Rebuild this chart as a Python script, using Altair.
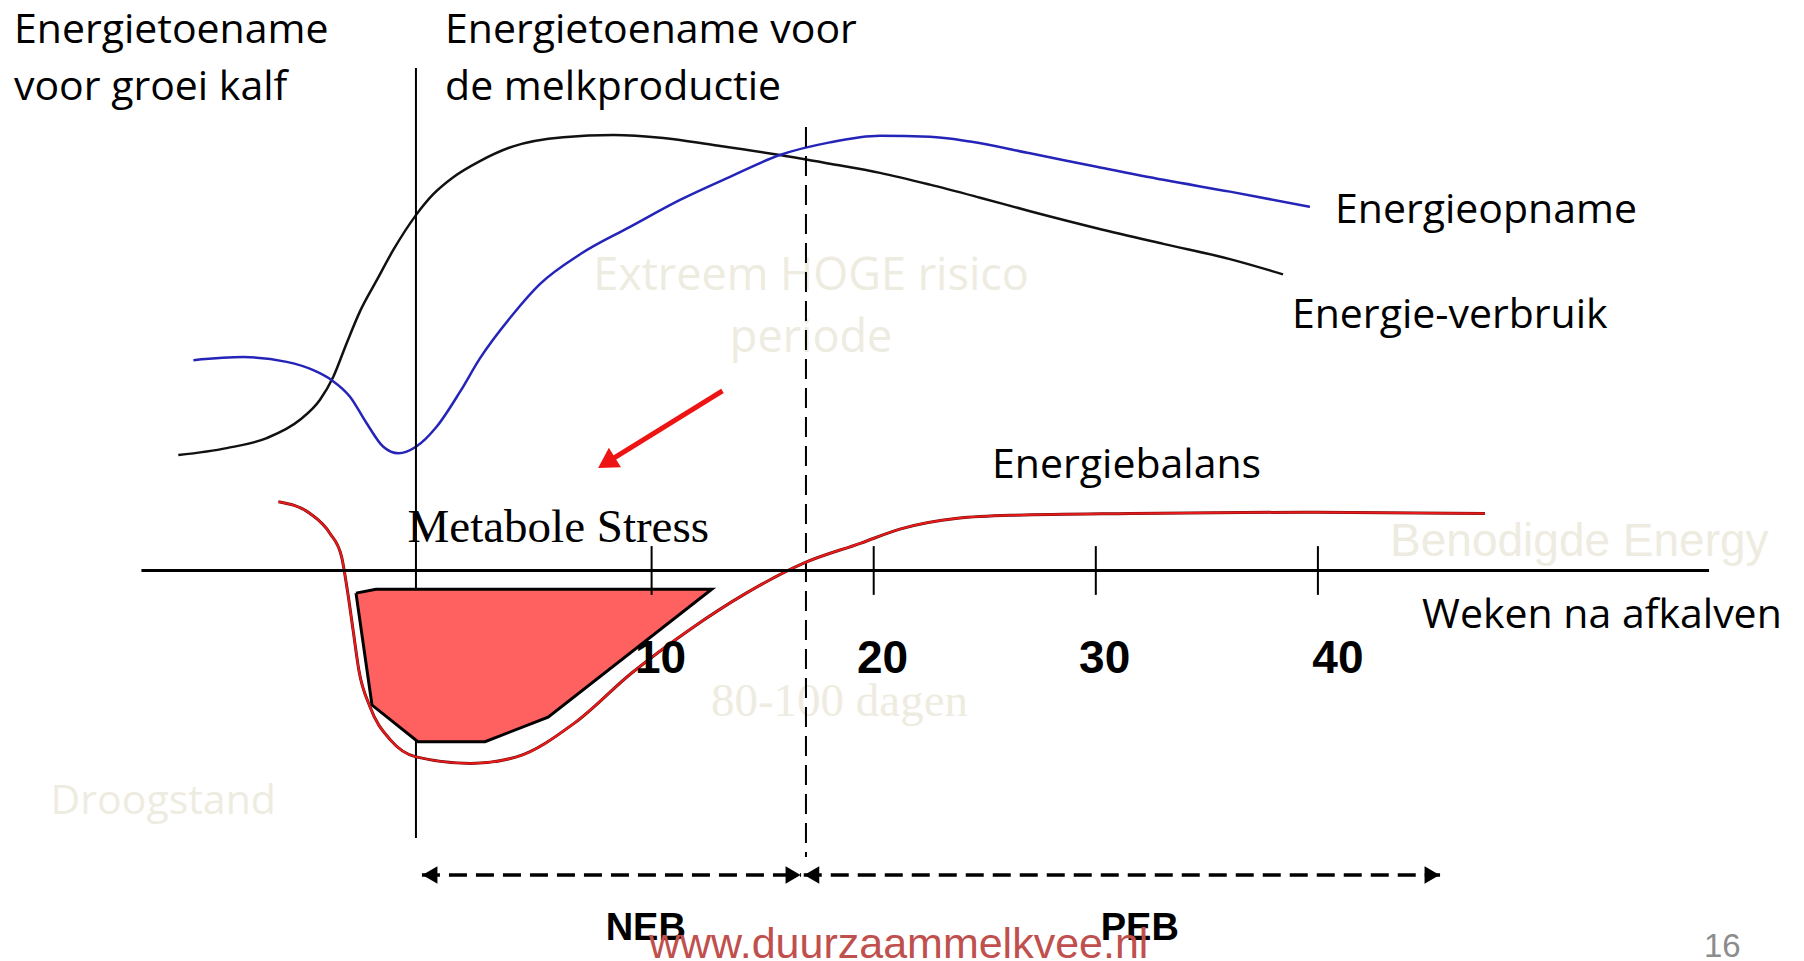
import altair as alt
import pandas as pd

# ---------------- data (x = weeks after calving, y = energy, arbitrary units) ----
verbruik_week = [-11.31, -9.13, -7.33, -5.83, -4.93, -4.33, -3.73, -3.13, -2.38, -1.63, -0.61, 0.17,
                 1.07, 2.27, 3.77, 6.02, 8.28, 10.53, 12.78, 15.78, 18.03, 20.28, 22.53, 24.79,
                 27.04, 30.04, 33.04, 36.04, 38.43]
verbruik_energie = [26.5, 28.1, 30.4, 34.6, 39.2, 44.5, 52.2, 59.5, 66.6, 73.6, 81.6, 86.4,
                    90.3, 94.0, 97.4, 99.5, 100.0, 99.3, 97.7, 95.4, 93.4, 91.3, 88.6, 85.6,
                    82.5, 78.6, 75.0, 71.5, 68.0]

opname_week = [-10.63, -8.38, -6.43, -5.23, -4.40, -3.58, -2.83, -2.08, -1.40, -0.61, 0.32, 1.37,
               2.27, 3.77, 4.98, 6.78, 9.03, 11.28, 13.53, 15.78, 18.03, 20.28, 22.53, 24.34,
               27.04, 30.04, 33.04, 36.04, 39.64]
opname_energie = [48.3, 49.0, 47.9, 46.0, 43.7, 39.9, 33.8, 28.4, 26.9, 28.4, 33.0, 41.0,
                  48.7, 58.9, 65.8, 72.6, 78.9, 85.1, 90.4, 95.4, 98.3, 99.8, 99.6, 98.5,
                  95.8, 92.7, 89.7, 87.0, 83.5]

balans_week = [-6.80, -5.38, -4.48, -3.96, -3.70, -3.44, -3.18, -2.68, -1.76, -0.61, 1.86, 3.92,
               6.51, 9.09, 11.68, 14.26, 16.85, 19.43, 21.18, 23.78, 26.36, 31.57, 39.36, 47.52]
balans_energie = [15.8, 13.1, 8.5, 3.2, -4.5, -13.7, -22.9, -31.3, -38.9, -42.8, -44.3, -42.8,
                  -35.1, -23.6, -13.7, -5.2, 1.7, 6.3, 9.5, 12.0, 12.7, 13.1, 13.4, 13.1]

stress_week = [-3.31, -2.41, 12.71, 5.34, 2.50, -0.52, -2.59, -3.31]
stress_energie = [-5.2, -4.3, -4.3, -33.7, -39.3, -39.3, -30.9, -5.2]

tick_values = [10, 20, 30, 40]
tick_labels = ["10", "20", "30", "40"]
tick_label_week = [10.4, 20.4, 30.4, 40.9]

axis_start, axis_end = -12.97, 57.61
calving_week = -0.61
peak_week = 16.95

neb_range = [-0.34, 16.73]
peb_range = [16.85, 45.5]

# ---------------- scales ----------------
xs = alt.Scale(domain=[-18.978, 61.526], nice=False, zero=False)
ys = alt.Scale(domain=[-89.67, 129.16], nice=False, zero=False)


def X(f="x"):
    return alt.X(f"{f}:Q", scale=xs, axis=None)


def Y(f="y"):
    return alt.Y(f"{f}:Q", scale=ys, axis=None)


def text_layer(rows, **style):
    df = pd.DataFrame(rows, columns=["x", "y", "t"])
    base = dict(align="left", baseline="alphabetic", font="Open Sans", fontSize=41, color="black")
    base.update(style)
    return alt.Chart(df).mark_text(**base).encode(x=X(), y=Y(), text="t:N")


# ---------------- faint background texts ----------------
faint = "#EEECE1"
faint_layers = [
    text_layer([(17.18, 64.41, "Extreem HOGE risico"), (17.18, 50.17, "periode")],
               align="center", fontSize=45, color=faint),
    text_layer([(43.25, 3.40, "Benodigde Energy")], font="Liberation Sans", fontSize=46, color=faint),
    text_layer([(12.67, -33.32, "80-100 dagen")], font="Liberation Serif", fontSize=47, color=faint),
    text_layer([(-17.06, -56.03, "Droogstand")], fontSize=41, color=faint),
]

# ---------------- curves ----------------
df_v = pd.DataFrame({"x": verbruik_week, "y": verbruik_energie})
df_o = pd.DataFrame({"x": opname_week, "y": opname_energie})
df_b = pd.DataFrame({"x": balans_week, "y": balans_energie})
df_s = pd.DataFrame({"x": stress_week, "y": stress_energie, "i": list(range(len(stress_week)))})

line_v = alt.Chart(df_v).mark_line(interpolate="monotone", color="#111111", strokeWidth=2.5).encode(x=X(), y=Y())
line_o = alt.Chart(df_o).mark_line(interpolate="monotone", color="#2424b8", strokeWidth=2.5).encode(x=X(), y=Y())
stress = alt.Chart(df_s).mark_line(fill="#ff6060", stroke="black", strokeWidth=3, strokeJoin="miter").encode(
    x=X(), y=Y(), order="i:Q")
line_b_shadow = alt.Chart(df_b).mark_line(interpolate="monotone", color="#6a0c0c", strokeWidth=3).encode(x=X(), y=Y())
line_b = alt.Chart(df_b).mark_line(interpolate="monotone", color="#e81a1a", strokeWidth=2).encode(x=X(), y=Y())

# ---------------- axis, ticks, vertical lines ----------------
axis_df = pd.DataFrame({"x": [axis_start], "x2": [axis_end], "y": [0.0]})
axis_line = alt.Chart(axis_df).mark_rule(color="black", strokeWidth=3).encode(x=X(), x2="x2:Q", y=Y())

ticks_df = pd.DataFrame({"x": tick_values, "y": [5.6] * 4, "y2": [-5.6] * 4})
ticks = alt.Chart(ticks_df).mark_rule(color="black", strokeWidth=2).encode(x=X(), y=Y(), y2="y2:Q")

tl_df = pd.DataFrame({"x": tick_label_week, "y": [-23.54] * 4, "t": tick_labels})
tick_text = alt.Chart(tl_df).mark_text(align="center", baseline="alphabetic",
                                       font="Liberation Sans Narrow, Liberation Sans", fontWeight="bold",
                                       fontSize=46, color="black").encode(x=X(), y=Y(), text="t:N")

vl_df = pd.DataFrame({"x": [calving_week], "y": [115.4], "y2": [-61.42]})
calving_line = alt.Chart(vl_df).mark_rule(color="black", strokeWidth=2).encode(x=X(), y=Y(), y2="y2:Q")
pk_df = pd.DataFrame({"x": [peak_week], "y": [101.84], "y2": [-65.79]})
peak_line = alt.Chart(pk_df).mark_rule(color="black", strokeWidth=2, strokeDash=[20, 9]).encode(
    x=X(), y=Y(), y2="y2:Q")

# ---------------- NEB / PEB arrows ----------------
arr_y = -69.92
arr_df = pd.DataFrame({"x": [neb_range[0], peb_range[0]], "x2": [neb_range[1], peb_range[1]], "y": [arr_y, arr_y]})
arr_lines = alt.Chart(arr_df).mark_rule(color="black", strokeWidth=3.5, strokeDash=[18, 9]).encode(
    x=X(), x2="x2:Q", y=Y())
heads_r = pd.DataFrame({"x": [neb_range[1] - 0.36, peb_range[1] - 0.36], "y": [arr_y, arr_y]})
heads_l = pd.DataFrame({"x": [neb_range[0] + 0.36, peb_range[0] + 0.36], "y": [arr_y, arr_y]})
arr_heads_r = alt.Chart(heads_r).mark_point(shape="triangle-right", filled=True, color="black", opacity=1,
                                            size=300).encode(x=X(), y=Y())
arr_heads_l = alt.Chart(heads_l).mark_point(shape="triangle-left", filled=True, color="black", opacity=1,
                                            size=300).encode(x=X(), y=Y())

# ---------------- red arrow ----------------
red_df = pd.DataFrame({"x": [13.19], "y": [41.22], "x2": [7.97], "y2": [24.75]})
red_line = alt.Chart(red_df).mark_rule(color="#ee1414", strokeWidth=5).encode(x=X(), y=Y(), x2="x2:Q", y2="y2:Q")
red_head = alt.Chart(pd.DataFrame({"x": [7.97], "y": [24.75]})).mark_point(
    shape="triangle-up", filled=True, color="#ee1414", opacity=1, size=520, angle=238).encode(x=X(), y=Y())

# ---------------- labels ----------------
labels = [
    text_layer([(-18.71, 121.06, "Energietoename"), (-18.71, 108.04, "voor groei kalf"),
                (0.70, 121.06, "Energietoename voor"), (0.70, 108.04, "de melkproductie"),
                (40.77, 79.79, "Energieopname"), (38.83, 55.68, "Energie-verbruik"),
                (25.33, 21.24, "Energiebalans"), (44.69, -13.20, "Weken na afkalven")]),
    text_layer([(-0.99, 6.61, "Metabole Stress")], font="Liberation Serif", fontSize=47),
    text_layer([(7.93, -84.84, "NEB"), (30.22, -84.84, "PEB")],
               font="Liberation Sans Narrow, Liberation Sans", fontWeight="bold", fontSize=38),
    text_layer([(9.88, -88.98, "www.duurzaammelkvee.nl")], font="Liberation Sans", fontSize=43, color="#C0504D"),
    text_layer([(57.38, -88.75, "16")], font="Liberation Sans", fontSize=33, color="#8c8c8c"),
]

chart = alt.layer(
    *faint_layers,
    line_v, line_o,
    calving_line, peak_line,
    stress,
    line_b_shadow, line_b,
    axis_line, ticks,
    arr_lines, arr_heads_r, arr_heads_l,
    red_line, red_head,
    tick_text,
    *labels,
).properties(
    width=1788, height=953, padding=0, background="white",
    autosize=alt.AutoSizeParams(type="none"),
).configure_view(stroke=None)

chart.save("out.html", embed_options={"renderer": "svg", "actions": False})
